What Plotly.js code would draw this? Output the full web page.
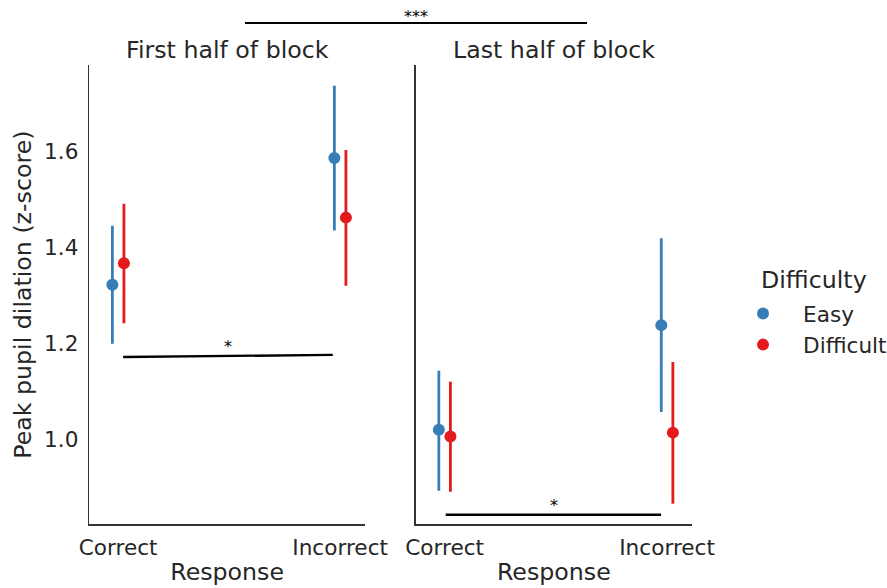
<!DOCTYPE html>
<html><head><meta charset="utf-8">
<script src="https://cdn.plot.ly/plotly-3.0.1.min.js"></script>
<style>html,body{margin:0;padding:0;background:#fff;overflow:hidden;width:887px;height:588px}</style>
</head><body><div id="chart" style="width:887px;height:588px;overflow:hidden"></div>
<script>
// ---- data ----
const responses = ['Correct', 'Incorrect'];
const panels = ['First half of block', 'Last half of block'];
const difficulties = ['Easy', 'Difficult'];
const legendTitle = 'Difficulty';

const easyFirstMean = [1.323, 1.587];
const easyFirstLo   = [1.200, 1.436];
const easyFirstHi   = [1.446, 1.738];
const diffFirstMean = [1.368, 1.463];
const diffFirstLo   = [1.243, 1.321];
const diffFirstHi   = [1.492, 1.604];

const easyLastMean = [1.021, 1.239];
const easyLastLo   = [0.894, 1.058];
const easyLastHi   = [1.144, 1.420];
const diffLastMean = [1.007, 1.015];
const diffLastLo   = [0.892, 0.867];
const diffLastHi   = [1.121, 1.162];

const sigLabels = ['*', '*', '***'];
const sigLevelFirst = [1.1725, 1.177];
const sigLevelLast = [0.844, 0.844];

const yTicks = [1.0, 1.2, 1.4, 1.6];
const yTickText = ['1.0', '1.2', '1.4', '1.6'];

// ---- style ----
const colors = {Easy: '#377eb8', Difficult: '#e41a1c'};
const textColor = '#262626';
const font = 'DejaVu Sans';
const dodge = 0.026;
const tickSize = 21.6;
const labelSize = 23.7;

function trace(means, lo, hi, diff, xa, ya, showLegend) {
  const off = diff === 'Easy' ? -dodge : dodge;
  return {
    type: 'scatter', mode: 'markers',
    x: responses.map((r, i) => i + off),
    y: means,
    xaxis: xa, yaxis: ya,
    name: diff, showlegend: showLegend,
    marker: {color: colors[diff], size: 12},
    error_y: {type: 'data', symmetric: false,
      array: means.map((m, i) => hi[i] - m),
      arrayminus: means.map((m, i) => m - lo[i]),
      color: colors[diff], thickness: 2.8, width: 0},
    hoverinfo: 'x+y'
  };
}

const data = [
  trace(easyFirstMean, easyFirstLo, easyFirstHi, 'Easy', 'x', 'y', true),
  trace(diffFirstMean, diffFirstLo, diffFirstHi, 'Difficult', 'x', 'y', true),
  trace(easyLastMean, easyLastLo, easyLastHi, 'Easy', 'x2', 'y2', false),
  trace(diffLastMean, diffLastLo, diffLastHi, 'Difficult', 'x2', 'y2', false)
];

const xRange = [-0.13, 1.112];
const yRange = [0.824, 1.781];
const axLine = '#333333';

function xaxis(domain, anchor) {
  return {
    domain: domain, anchor: anchor, range: xRange,
    tickvals: responses.map((r, i) => i), ticktext: responses,
    showline: true, linecolor: axLine, linewidth: 1.6,
    showgrid: false, zeroline: false, ticks: '',
    tickfont: {family: font, size: tickSize, color: textColor},
    ticklabelstandoff: 3,
    title: {text: 'Response', font: {family: font, size: labelSize, color: textColor}, standoff: 4},
    automargin: false, fixedrange: true
  };
}

const xd1 = [89.3 / 887, 365 / 887];
const xd2 = [415.7 / 887, 692 / 887];
const yd = [(588 - 524.3) / 588, (588 - 65) / 588];

const layout = {
  width: 887, height: 588,
  margin: {l: 0, r: 0, t: 0, b: 0, autoexpand: false},
  paper_bgcolor: '#ffffff', plot_bgcolor: '#ffffff',
  font: {family: font, color: textColor},
  xaxis: xaxis(xd1, 'y'),
  xaxis2: xaxis(xd2, 'y2'),
  yaxis: {
    domain: yd, anchor: 'x', range: yRange,
    tickvals: yTicks, ticktext: yTickText,
    showline: true, linecolor: axLine, linewidth: 1.6,
    showgrid: false, zeroline: false, ticks: '',
    tickfont: {family: font, size: tickSize, color: textColor},
    ticklabelstandoff: 5,
    title: {text: 'Peak pupil dilation (z-score)', font: {family: font, size: labelSize, color: textColor}},
    automargin: false, fixedrange: true
  },
  yaxis2: {
    domain: yd, anchor: 'x2', range: yRange, matches: 'y',
    showline: true, linecolor: axLine, linewidth: 1.6,
    showgrid: false, zeroline: false, ticks: '', showticklabels: false,
    automargin: false, fixedrange: true
  },
  showlegend: true,
  legend: {
    x: 723 / 887, xanchor: 'left', y: (588 - 293) / 588, yanchor: 'top',
    font: {family: font, size: tickSize, color: textColor},
    bgcolor: 'rgba(0,0,0,0)', borderwidth: 0, itemwidth: 70, tracegroupgap: 0
  },
  shapes: [
    {type: 'line', xref: 'x', yref: 'y', x0: 0.0225, x1: 0.967, y0: sigLevelFirst[0], y1: sigLevelFirst[1],
      line: {color: '#000', width: 2.4}},
    {type: 'line', xref: 'x2', yref: 'y2', x0: 0.005, x1: 0.973, y0: sigLevelLast[0], y1: sigLevelLast[1],
      line: {color: '#000', width: 2.4}},
    {type: 'line', xref: 'paper', yref: 'paper', x0: 245 / 887, x1: 587 / 887, y0: (588 - 23) / 588, y1: (588 - 23) / 588,
      line: {color: '#000', width: 2}}
  ],
  annotations: [
    {text: panels[0], xref: 'paper', yref: 'paper', x: (xd1[0] + xd1[1]) / 2, y: (588 - 50) / 588,
      xanchor: 'center', yanchor: 'middle', showarrow: false, font: {family: font, size: labelSize, color: textColor}},
    {text: panels[1], xref: 'paper', yref: 'paper', x: (xd2[0] + xd2[1]) / 2, y: (588 - 50) / 588,
      xanchor: 'center', yanchor: 'middle', showarrow: false, font: {family: font, size: labelSize, color: textColor}},
    {text: legendTitle, xref: 'paper', yref: 'paper', x: 759 / 887, y: (588 - 280) / 588,
      xanchor: 'left', yanchor: 'middle', showarrow: false, font: {family: font, size: labelSize, color: textColor}},
    {text: sigLabels[0], xref: 'x', yref: 'y', x: 0.495, y: (sigLevelFirst[0] + sigLevelFirst[1]) / 2,
      xanchor: 'center', yanchor: 'bottom', yshift: -2, showarrow: false, font: {family: font, size: 16, color: '#000'}},
    {text: sigLabels[1], xref: 'x2', yref: 'y2', x: 0.49, y: sigLevelLast[0],
      xanchor: 'center', yanchor: 'bottom', yshift: -2, showarrow: false, font: {family: font, size: 16, color: '#000'}},
    {text: sigLabels[2], xref: 'paper', yref: 'paper', x: 416 / 887, y: (588 - 23) / 588,
      xanchor: 'center', yanchor: 'bottom', yshift: -5, showarrow: false, font: {family: font, size: 16, color: '#000'}}
  ]
};

Plotly.newPlot('chart', data, layout, {displayModeBar: false, staticPlot: true});
</script>
</body></html>
